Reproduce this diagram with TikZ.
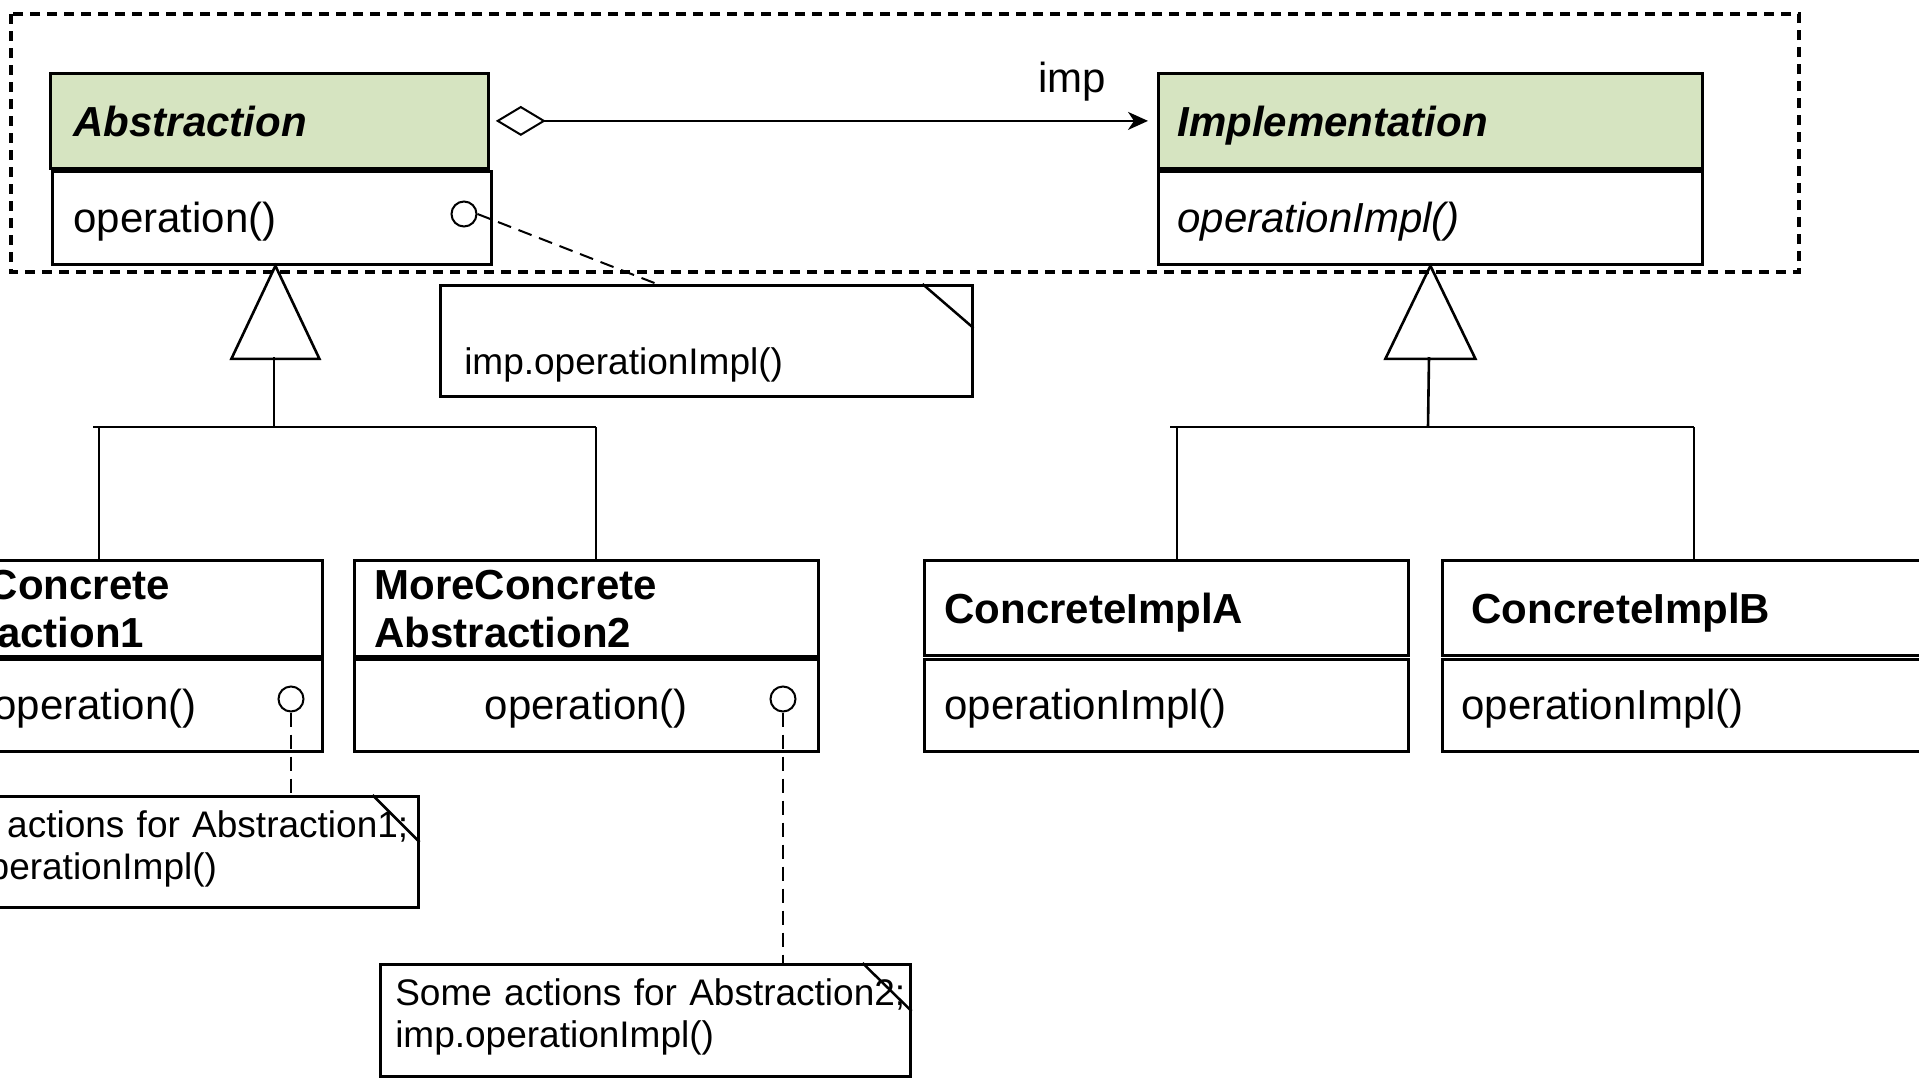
\documentclass[tikz,border=0pt]{standalone}
\usepackage{fontspec}
\setmainfont{Liberation Sans}
\usetikzlibrary{arrows.meta}
\definecolor{hdrgreen}{HTML}{D6E4C1}
\begin{document}
\begin{tikzpicture}[x=0.5pt,y=-0.5pt,
  cls/.style={draw=black, line width=1.4pt, anchor=north west, inner ysep=0pt,
    align=left, font=\fontsize{21}{24}\selectfont},
  hdr/.style={cls, font=\fontsize{21}{24}\selectfont\bfseries},
  onehdr/.style={hdr, text height=31.5pt, text depth=16pt},
  twohdr/.style={hdr, text height=19.5pt, text depth=28.5pt},
  opline/.style={cls, text height=30pt, text depth=16pt},
  abshdr/.style={onehdr, fill=hdrgreen},
  port/.style={circle, draw=black, line width=1pt, minimum size=12.5pt, inner sep=0pt},
  note/.style={draw=black, line width=1.25pt, anchor=north west, inner ysep=0pt,
    align=left, font=\fontsize{18.5}{21}\selectfont},
  fold/.style={line width=1.25pt},
  notelink/.style={line width=1pt, dash pattern=on 7pt off 4pt},
  conn/.style={line width=1.3pt},
  gen/.style={line width=1.3pt, line join=miter},
  frame/.style={line width=1.6pt, dash pattern=on 5pt off 3.5pt},
  lbl/.style={font=\fontsize{21}{24}\selectfont, inner sep=0pt}
]
\useasboundingbox (0,0) rectangle (1919,1078);

% package frame
\draw[frame] (11,14) rectangle (1799,272);

% Abstraction
\node[abshdr, inner xsep=11.5pt, text width=196pt] (absH) at (49,72) {\itshape Abstraction};
\node[opline, text height=30.5pt, inner xsep=10.5pt, text width=198.5pt] (absO) at (51,170) {operation()};
\node[port] (c0) at (464,214) {};

% Implementation
\node[abshdr, inner xsep=9.5pt, text width=253pt] (implH) at (1157,72) {\itshape Implementation};
\node[opline, text height=30.5pt, inner xsep=9.5pt, text width=253pt] (implO) at (1157,170) {\itshape operationImpl()};

% aggregation
\draw[conn, line width=1pt,
  {Diamond[open,length=25pt,width=15pt,line width=1pt]}-{Stealth[length=10pt,width=9pt,inset=3pt]},
  shorten <=3pt, shorten >=4.5pt] (absH.east) -- (implH.west);
\node[lbl] (implbl) at (1072,82) {imp};

% note 1
\node[note, inner xsep=12pt, text width=242pt, text height=44.5pt, text depth=11pt] (n1) at (439,284) {imp.operationImpl()};
\draw[fold] ([xshift=-25.5pt]n1.north east) -- ([yshift=-22pt]n1.north east);
\draw[notelink] (c0.east) -- ([xshift=109pt]n1.north west);

% left subclasses
\node[twohdr, inner xsep=10pt, text width=207.5pt] (ca1H) at (-134,559) {MoreConcrete\\Abstraction1};
\node[opline, inner xsep=10pt, text width=207.5pt, align=center] (ca1O) at (-134,658) {operation()};
\node[port] (c1) at (291,699) {};

\node[twohdr, inner xsep=10pt, text width=212pt] (mc2H) at (353,559) {MoreConcrete\\Abstraction2};
\node[opline, inner xsep=10pt, text width=212pt, align=center] (mc2O) at (353,658) {operation()};
\node[port] (c2) at (783,699) {};

% right subclasses
\node[onehdr, inner xsep=10pt, text width=222pt] (ciaH) at (923,559) {ConcreteImplA};
\node[opline, inner xsep=10pt, text width=222pt] (ciaO) at (923,658) {operationImpl()};
\node[onehdr, inner xsep=14.5pt, text width=213pt] (cibH) at (1441,559) {ConcreteImplB};
\node[opline, inner xsep=9.5pt, text width=223pt] (cibO) at (1441,658) {operationImpl()};

% notes for subclasses
\node[note, inner xsep=7.5pt, text width=252.5pt, text height=20.5pt, text depth=35pt] (nA1) at (-118,795) {\mbox{Some actions for Abstraction1;}\\\mbox{imp.operationImpl()}};
\draw[fold] ([xshift=-23.5pt]nA1.north east) -- ([yshift=-23.5pt]nA1.north east);
\node[note, inner xsep=7.5pt, text width=250pt, text height=20.5pt, text depth=35.5pt] (n2) at (379,963) {\mbox{Some actions for Abstraction2;}\\\mbox{imp.operationImpl()}};
\draw[fold] ([xshift=-24.5pt]n2.north east) -- ([yshift=-24pt]n2.north east);
\draw[notelink] (c1.south) -- (c1.south |- nA1.north);
\draw[notelink] (c2.south) -- (c2.south |- n2.north);

% generalization (left)
\coordinate (t1) at (274,357);
\coordinate (j1) at (274,427);
\coordinate (b0) at (93,427);
\coordinate (b1) at (99,427);
\coordinate (b2) at (596,427);
\draw[gen] ([xshift=1.75pt]absO.south) -- ++(-44,93) -- ++(88,0) -- cycle;
\draw[conn] (t1) -- (j1);
\draw[conn] (b0) -- (b2);
\draw[conn] (b1) -- (b1 |- ca1H.north);
\draw[conn] (b2) -- (b2 |- mc2H.north);

% generalization (right)
\coordinate (t2) at (1429,357);
\coordinate (j2) at (1428,427);
\coordinate (b3) at (1170,427);
\coordinate (b4) at (1177,427);
\coordinate (b5) at (1694,427);
\draw[gen] (implO.south) -- ++(-45,93) -- ++(90,0) -- cycle;
\draw[conn] (t2) -- (j2);
\draw[conn] (b3) -- (b5);
\draw[conn] (b4) -- (b4 |- ciaH.north);
\draw[conn] (b5) -- (b5 |- cibH.north);
\end{tikzpicture}
\end{document}
